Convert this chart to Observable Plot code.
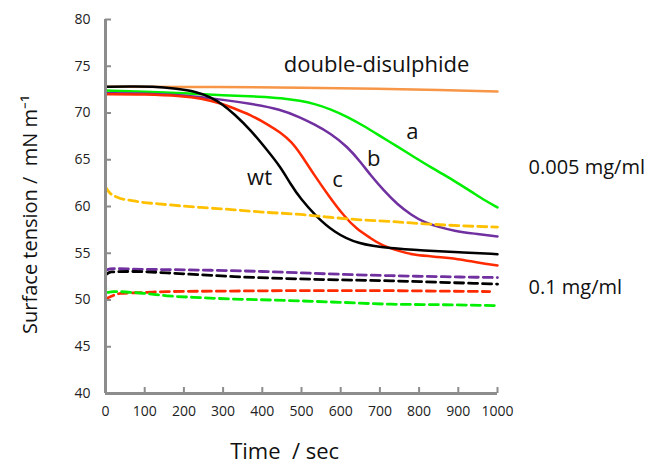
<!DOCTYPE html>
<html>
<head>
<meta charset="utf-8">
<script src="https://cdn.jsdelivr.net/npm/d3@7"></script>
<script src="https://cdn.jsdelivr.net/npm/@observablehq/plot@0.6"></script>
<style>
  html, body { margin: 0; padding: 0; background: #fff; }
  svg { font-family: "Open Sans", sans-serif; }
</style>
</head>
<body>
<div id="chart"></div>
<script>
// ---- data (time in sec, surface tension in mN/m) ----
const wtT   = [0, 60, 120, 183, 230, 268, 300, 328, 370, 413, 447, 472, 498, 536, 583, 642, 728, 813, 900, 1000];
const wtV   = [72.8, 72.85, 72.85, 72.6, 72.3, 71.7, 70.9, 69.9, 68.2, 66.0, 64.2, 62.4, 60.8, 59.0, 57.25, 56.0, 55.5, 55.3, 55.1, 54.9];
const cT    = [0, 100, 200, 243, 290, 328, 370, 413, 447, 475, 498, 532, 570, 608, 640, 677, 702, 750, 787, 850, 898, 950, 1000];
const cV    = [72.0, 72.0, 71.8, 71.55, 71.1, 70.5, 69.8, 68.8, 67.9, 66.9, 65.6, 63.4, 61.1, 59.0, 57.6, 56.6, 55.9, 55.2, 54.8, 54.6, 54.4, 54.0, 53.7];
const bT    = [0, 100, 200, 285, 370, 447, 498, 532, 575, 617, 650, 677, 710, 745, 780, 813, 850, 889, 940, 1000];
const bV    = [72.1, 72.1, 71.9, 71.5, 71.0, 70.4, 69.5, 68.8, 67.8, 66.4, 64.8, 63.3, 61.7, 60.2, 59.1, 58.3, 57.8, 57.4, 57.1, 56.8];
const aT    = [0, 100, 200, 300, 400, 447, 498, 532, 575, 617, 660, 702, 745, 787, 830, 872, 910, 940, 970, 1000];
const aV    = [72.4, 72.3, 72.1, 71.9, 71.75, 71.6, 71.3, 71.0, 70.4, 69.6, 68.6, 67.5, 66.4, 65.3, 64.2, 63.2, 62.2, 61.4, 60.6, 59.9];
const ddT   = [0, 300, 500, 700, 850, 1000];
const ddV   = [72.8, 72.8, 72.7, 72.6, 72.45, 72.3];
// 0.1 mg/ml (dashed)
const ddDT  = [0, 10, 30, 72, 157, 243, 328, 400, 498, 560, 642, 728, 813, 900, 1000];
const ddDV  = [62.1, 61.5, 61.0, 60.6, 60.2, 59.9, 59.65, 59.4, 59.15, 58.9, 58.6, 58.4, 58.15, 57.95, 57.8];
const bDT   = [0, 20, 72, 243, 400, 498, 600, 728, 850, 1000];
const bDV   = [53.2, 53.35, 53.3, 53.2, 53.05, 52.9, 52.75, 52.6, 52.5, 52.4];
const wtDT  = [0, 15, 72, 157, 243, 328, 420, 498, 600, 728, 850, 1000];
const wtDV  = [52.7, 53.0, 53.05, 52.9, 52.7, 52.5, 52.35, 52.25, 52.15, 52.05, 51.9, 51.7];
const cDT   = [0, 15, 38, 100, 157, 300, 500, 700, 850, 980];
const cDV   = [50.1, 50.4, 50.7, 50.8, 50.9, 50.95, 51.0, 51.0, 50.95, 50.9];
const aDT   = [0, 1, 20, 100, 157, 243, 328, 420, 498, 600, 728, 850, 1000];
const aDV   = [52.1, 50.8, 50.9, 50.7, 50.45, 50.25, 50.1, 50.0, 49.9, 49.75, 49.55, 49.5, 49.4];

const xTicks = [0, 100, 200, 300, 400, 500, 600, 700, 800, 900, 1000];
const yTicks = [40, 45, 50, 55, 60, 65, 70, 75, 80];

const titleLabel = "double-disulphide";
const titleLabelT = 455, titleLabelV = 75.1;
const curveLabels = ["a", "b", "c", "wt"];
const curveLabelT = [783, 684, 592, 393];
const curveLabelV = [68.0, 65.05, 62.8, 63.1];
const concLabels = ["0.005 mg/ml", "0.1 mg/ml"];
const concLabelV = [64.2, 51.3];
const xTitle = "Time  / sec";
const yTitle = "Surface tension /  mN m\u207B\u00B9";

// ---- build series ----
const series = [
  {t: ddT, v: ddV, color: "#F79646", dash: null},
  {t: aT, v: aV, color: "#00EE00", dash: null},
  {t: bT, v: bV, color: "#7030A0", dash: null},
  {t: cT, v: cV, color: "#FF2A00", dash: null},
  {t: wtT, v: wtV, color: "#000000", dash: null},
  {t: ddDT, v: ddDV, color: "#FFC000", dash: "9,5"},
  {t: bDT, v: bDV, color: "#7030A0", dash: "9,5"},
  {t: wtDT, v: wtDV, color: "#000000", dash: "9,5"},
  {t: cDT, v: cDV, color: "#FF2A00", dash: "9,5"},
  {t: aDT, v: aDV, color: "#00EE00", dash: "9,5"}
];
const toRows = s => s.t.map((t, i) => ({t, v: s.v[i]}));

const W = 651, H = 469;
const mL = 105, mR = 154, mT = 19, mB = 76;
const innerW = W - mL - mR, innerH = H - mT - mB;
const axisColor = "#8c8c8c";

const marks = [];
series.forEach(s => {
  marks.push(Plot.line(toRows(s), {
    x: "t", y: "v", stroke: s.color, strokeWidth: s.dash ? 2.8 : 2.5,
    strokeDasharray: s.dash, curve: s.dash ? "monotone-x" : "basis"
  }));
});
// axis ticks (inward)
marks.push(Plot.tickY(yTicks, {y: d => d, stroke: axisColor, strokeWidth: 2, insetRight: innerW - 6}));
marks.push(Plot.tickX(xTicks, {x: d => d, stroke: axisColor, strokeWidth: 2, insetTop: innerH - 6}));
// axis lines
marks.push(Plot.ruleX([0], {stroke: axisColor, strokeWidth: 3}));
marks.push(Plot.ruleY([40], {stroke: axisColor, strokeWidth: 3}));
// tick labels
marks.push(Plot.axisY(yTicks, {tickSize: 0, tickPadding: 15, fontSize: 14, fill: "#222", label: null, tickFormat: d => String(d)}));
marks.push(Plot.axisX(xTicks, {tickSize: 0, tickPadding: 13, fontSize: 14, fill: "#222", label: null, tickFormat: d => String(d)}));
// annotations
marks.push(Plot.text([titleLabel], {x: [titleLabelT], y: [titleLabelV], textAnchor: "start", fontSize: 22, fill: "#111"}));
marks.push(Plot.text(curveLabels.map((s, i) => ({s, t: curveLabelT[i], v: curveLabelV[i]})), {
  x: "t", y: "v", text: "s", fontSize: 22, fill: "#111", textAnchor: "middle"
}));
marks.push(Plot.text(concLabels.map((s, i) => ({s, v: concLabelV[i]})), {
  y: "v", text: "s", frameAnchor: "right", textAnchor: "start", dx: 31, fontSize: 20, fill: "#111"
}));
marks.push(Plot.text([xTitle], {x: [457], frameAnchor: "bottom", dy: 65, fontSize: 22, fill: "#111"}));
marks.push(Plot.text([yTitle], {y: [59.15], frameAnchor: "left", textAnchor: "middle", dx: -75, rotate: -90, fontSize: 20, fill: "#111"}));

const chart = Plot.plot({
  width: W, height: H,
  marginLeft: mL, marginRight: mR, marginTop: mT, marginBottom: mB,
  x: {domain: [0, 1000]},
  y: {domain: [40, 80]},
  style: {fontFamily: "Open Sans, sans-serif", background: "#fff"},
  marks
});
document.getElementById("chart").appendChild(chart);
</script>
</body>
</html>
